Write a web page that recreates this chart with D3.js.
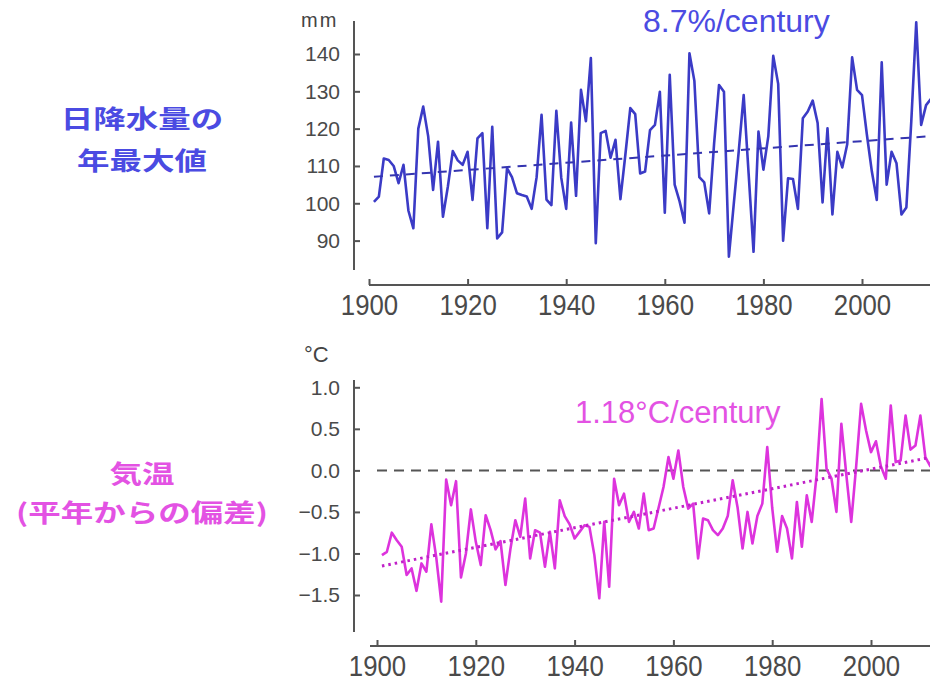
<!DOCTYPE html>
<html>
<head>
<meta charset="utf-8">
<script src="https://cdn.jsdelivr.net/npm/d3@7"></script>
<style>
  body { margin: 0; background: #fff; }
  text { font-family: "Liberation Sans", Arial, sans-serif; }
  .jp { font-family: "Noto Sans CJK JP", sans-serif; font-weight: bold; }
</style>
</head>
<body>
<script>
// dati: anni 1901-2014
const firstYear = 1901;

// massimo annuale della precipitazione giornaliera (mm)
const precip = [
  100.4, 101.8, 112, 111.6, 110, 105.4, 110.3, 98, 93.3, 120,
  125.9, 118, 103.6, 116.5, 96.4, 104.5, 114, 111.5, 110.3, 113.8,
  100.9, 117.4, 118.8, 93.3, 120.5, 90.6, 92.2, 109.4, 107, 102.7,
  102.2, 101.8, 98.5, 107, 123.7, 101, 99.5, 124.8, 106.8, 98.5,
  121.6, 102, 130.4, 122, 138.9, 89.3, 118.8, 119.4, 112.2, 117,
  101.1, 113, 125.5, 123.9, 108, 108.5, 119.6, 121, 129.9, 97.5,
  134.4, 105, 100.5, 94.8, 140.2, 132.8, 107, 105.6, 97.3, 116,
  131.7, 129.9, 85.7, 100, 114, 129, 108, 87, 119.2, 109,
  118, 139.5, 132, 90, 106.7, 106.5, 98.5, 122.8, 124.6, 127.5,
  121.5, 100.2, 120.1, 97, 113.8, 109.6, 115.8, 139.1, 130.4, 129,
  118.3, 108.5, 100.9, 137.8, 105, 113.8, 110.7, 97, 98.9, 122,
  148.5, 121, 126.3, 128
];

// anomalia della temperatura (°C)
const temp = [
  -1.02, -0.98, -0.75, -0.84, -0.92, -1.26, -1.18, -1.45, -1.12, -1.22,
  -0.65, -1.05, -1.58, -0.11, -0.42, -0.13, -1.29, -1.00, -0.47, -0.86,
  -1.14, -0.54, -0.72, -0.95, -0.85, -1.38, -0.95, -0.60, -0.80, -0.34,
  -1.06, -0.72, -0.75, -1.16, -0.74, -1.18, -0.36, -0.55, -0.65, -0.82,
  -0.74, -0.66, -0.68, -1.02, -1.54, -0.62, -1.40, -0.10, -0.42, -0.28,
  -0.62, -0.50, -0.70, -0.28, -0.72, -0.70, -0.45, -0.20, 0.16, -0.10,
  0.24, -0.20, -0.46, -0.40, -1.06, -0.58, -0.60, -0.72, -0.78, -0.70,
  -0.55, -0.12, -0.45, -0.94, -0.50, -0.88, -0.55, -0.40, 0.28, -0.45,
  -0.98, -0.55, -0.70, -1.06, -0.38, -0.92, -0.30, -0.62, -0.05, 0.86,
  0.02, -0.10, -0.50, 0.56, -0.05, -0.62, 0.05, 0.80, 0.48, 0.22,
  0.35, 0.05, -0.10, 0.78, 0.10, 0.12, 0.66, 0.25, 0.30, 0.66,
  0.16, 0.05, 0.36, 0.14
];

// rette di tendenza (anno, valore) agli estremi
const precipTrend = [[1901, 107.1], [2014, 118]];
const tempTrend = [[1901, -1.15], [2014, 0.18]];

const yearTicks = [1900, 1920, 1940, 1960, 1980, 2000];
const precipTicks = [90, 100, 110, 120, 130, 140];
const tempTicks = [-1.5, -1.0, -0.5, 0.0, 0.5, 1.0];

const blue = '#3b3bc6';
const blueText = '#4b4be2';
const magenta = '#dd33dd';
const magText = '#e352e3';
const axisCol = '#555';

const svg = d3.select('body')
    .append('svg')
    .attr('width', 930)
    .attr('height', 682);

const years = d3.range(firstYear, firstYear + precip.length);

// ---------- pannello superiore ----------
const x1 = d3.scaleLinear().domain([1900, 2000]).range([369, 862]);
const y1 = d3.scaleLinear().domain([90, 140]).range([240.6, 54]);

const ax1 = svg.append('g').attr('transform', 'translate(354,0)')
    .call(d3.axisLeft(y1).tickValues(precipTicks).tickSizeInner(-6).tickSizeOuter(0).tickPadding(14));
ax1.select('.domain').attr('d', 'M0,21V270');
styleAxis(ax1, 21);

const bx1 = svg.append('g').attr('transform', 'translate(0,285)')
    .call(d3.axisBottom(x1).tickValues(yearTicks).tickFormat(d3.format('d')).tickSizeInner(-6).tickSizeOuter(0).tickPadding(9));
bx1.select('.domain').attr('d', 'M369,0H935');
styleXAxis(bx1);

svg.append('path')
    .datum(years.map((yr, i) => [yr, precip[i]]))
    .attr('fill', 'none')
    .attr('stroke', blue)
    .attr('stroke-width', 2.6)
    .attr('stroke-linejoin', 'round')
    .attr('d', d3.line().x(d => x1(d[0])).y(d => y1(d[1])));

svg.append('path')
    .datum(precipTrend)
    .attr('fill', 'none')
    .attr('stroke', '#3434b0')
    .attr('stroke-width', 2)
    .attr('stroke-dasharray', '9,7')
    .attr('d', d3.line().x(d => x1(d[0])).y(d => y1(d[1])));

svg.append('text')
    .attr('x', 301).attr('y', 27)
    .attr('font-size', 20).attr('fill', '#444')
    .attr('letter-spacing', 2)
    .text('mm');

svg.append('text')
    .attr('x', 643).attr('y', 32)
    .attr('font-size', 32).attr('fill', blueText)
    .text('8.7%/century');

jpLabel(['日降水量の', '年最大値'], 142, [128, 170], blueText);

// ---------- pannello inferiore ----------
const x2 = d3.scaleLinear().domain([1900, 2000]).range([377, 871]);
const y2 = d3.scaleLinear().domain([-1.5, 1.0]).range([595, 387.3]);

const ax2 = svg.append('g').attr('transform', 'translate(354,0)')
    .call(d3.axisLeft(y2).tickValues(tempTicks).tickFormat(d3.format('.1f')).tickSizeInner(-6).tickSizeOuter(0).tickPadding(14));
ax2.select('.domain').attr('d', 'M0,380V632');
styleAxis(ax2, 21);

const bx2 = svg.append('g').attr('transform', 'translate(0,646)')
    .call(d3.axisBottom(x2).tickValues(yearTicks).tickFormat(d3.format('d')).tickSizeInner(-6).tickSizeOuter(0).tickPadding(9));
bx2.select('.domain').attr('d', 'M370,0H935');
styleXAxis(bx2);

// linea dello zero
svg.append('line')
    .attr('x1', 377).attr('x2', 935)
    .attr('y1', y2(0)).attr('y2', y2(0))
    .attr('stroke', '#555')
    .attr('stroke-width', 2)
    .attr('stroke-dasharray', '10,7');

svg.append('path')
    .datum(years.map((yr, i) => [yr, temp[i]]))
    .attr('fill', 'none')
    .attr('stroke', magenta)
    .attr('stroke-width', 2.6)
    .attr('stroke-linejoin', 'round')
    .attr('d', d3.line().x(d => x2(d[0])).y(d => y2(d[1])));

svg.append('path')
    .datum(tempTrend)
    .attr('fill', 'none')
    .attr('stroke', '#c020c8')
    .attr('stroke-width', 3)
    .attr('stroke-dasharray', '2.5,4')
    .attr('d', d3.line().x(d => x2(d[0])).y(d => y2(d[1])));

svg.append('text')
    .attr('x', 304).attr('y', 362)
    .attr('font-size', 22).attr('fill', '#444')
    .text('°C');

svg.append('text')
    .attr('x', 575).attr('y', 423)
    .attr('font-size', 31).attr('fill', magText)
    .text('1.18°C/century');

jpLabel(['気温', '(平年からの偏差)'], 142, [483, 522], magText);


function styleAxis(g, size) {
    g.select('.domain').attr('stroke', axisCol).attr('stroke-width', 2);
    g.selectAll('.tick line').attr('stroke', axisCol).attr('stroke-width', 2);
    g.selectAll('.tick text')
        .attr('fill', '#4a4a4a')
        .attr('font-size', size)
        .attr('font-family', '"Liberation Sans", Arial, sans-serif');
}

// etichette degli anni: più alte e strette
function styleXAxis(g) {
    g.select('.domain').attr('stroke', axisCol).attr('stroke-width', 2);
    g.selectAll('.tick line').attr('stroke', axisCol).attr('stroke-width', 2);
    g.selectAll('.tick text')
        .attr('fill', '#4a4a4a')
        .attr('font-size', 30)
        .attr('font-family', '"Liberation Sans", Arial, sans-serif')
        .attr('transform', 'scale(0.86,1)');
}

function jpLabel(lines, cx, ys, color) {
    lines.forEach((t, i) => {
        svg.append('text')
            .attr('class', 'jp')
            .attr('transform', 'translate(' + cx + ',' + ys[i] + ') scale(1.3,1)')
            .attr('text-anchor', 'middle')
            .attr('font-size', 25)
            .attr('fill', color)
            .text(t);
    });
}
</script>
</body>
</html>
